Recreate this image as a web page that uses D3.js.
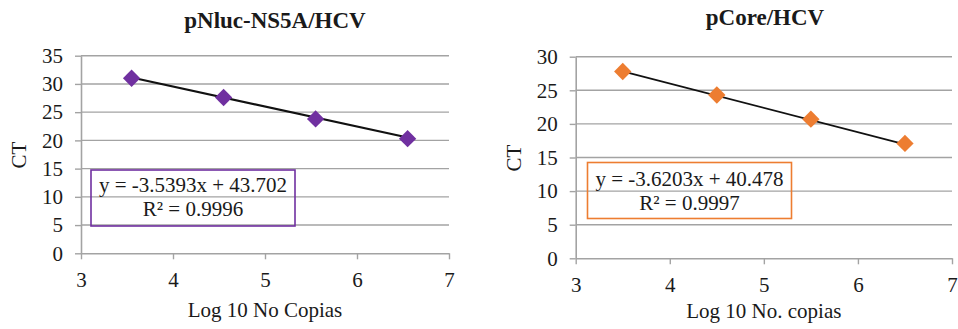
<!DOCTYPE html>
<html>
<head>
<meta charset="utf-8">
<script src="https://cdn.jsdelivr.net/npm/d3@7"></script>
<style>
  html, body { margin: 0; padding: 0; background: #fff; }
  svg { display: block; }
  text { font-family: "Liberation Serif", "Times New Roman", serif; fill: #1a1a1a; }
</style>
</head>
<body>
<svg id="chart" width="958" height="329"></svg>
<script>
// Standard curves: CT vs log10 copy number
const titles = ["pNluc-NS5A/HCV", "pCore/HCV"];
const xTitles = ["Log 10 No Copias", "Log 10 No. copias"];
const yTitle = "CT";
const xTicks = [3, 4, 5, 6, 7];
const yTicksNs5a = [0, 5, 10, 15, 20, 25, 30, 35];
const yTicksCore = [0, 5, 10, 15, 20, 25, 30];

const logCopiesNs5a = [3.55, 4.55, 5.55, 6.55];
const ctNs5a = [31.0, 27.6, 23.8, 20.3];
const logCopiesCore = [3.5, 4.5, 5.5, 6.5];
const ctCore = [27.8, 24.3, 20.7, 17.1];

const slopes = [-3.5393, -3.6203];
const intercepts = [43.702, 40.478];
const rSquared = ["0.9996", "0.9997"];
const markerColors = ["#7030a0", "#ed7d31"];

// Panel geometry
const panels = [
  { xs: logCopiesNs5a, ys: ctNs5a, yTicks: yTicksNs5a,
    left: 81, right: 449, top: 55.7, bottom: 253.3,
    titleX: 275, titleY: 28, xTitleY: 317, yTitleX: 26, yTitleY: 155,
    box: [91, 170, 204, 56], eqY: [191.5, 215.5], lineW: 2.2 },
  { xs: logCopiesCore, ys: ctCore, yTicks: yTicksCore,
    left: 575.7, right: 952, top: 56.7, bottom: 258.3,
    titleX: 765, titleY: 25, xTitleY: 318, yTitleX: 521, yTitleY: 158,
    box: [587.5, 162.5, 204, 56], eqY: [185.5, 209.5], lineW: 1.7 }
];

const svg = d3.select("#chart");
const gridColor = "#a3a3a3";

panels.forEach((p, i) => {
  const g = svg.append("g");
  const x = d3.scaleLinear().domain([3, 7]).range([p.left, p.right]);
  const y = d3.scaleLinear().domain([0, d3.max(p.yTicks)]).range([p.bottom, p.top]);

  // horizontal gridlines
  g.append("g").selectAll("line").data(p.yTicks.filter(t => t > 0)).join("line")
    .attr("x1", p.left).attr("x2", p.right)
    .attr("y1", d => y(d)).attr("y2", d => y(d))
    .attr("stroke", gridColor).attr("stroke-width", 1.4);

  // axes
  const yAxis = g.append("g").attr("transform", `translate(${p.left},0)`)
    .call(d3.axisLeft(y).tickValues(p.yTicks).tickFormat(d3.format("d"))
      .tickSize(6).tickSizeOuter(0).tickPadding(12));
  const xAxis = g.append("g").attr("transform", `translate(0,${p.bottom})`)
    .call(d3.axisBottom(x).tickValues(xTicks).tickFormat(d3.format("d"))
      .tickSize(6).tickSizeOuter(0).tickPadding(13));
  [yAxis, xAxis].forEach(a => {
    a.attr("font-family", null).attr("font-size", null);
    a.select(".domain").attr("stroke", gridColor).attr("stroke-width", 1.6);
    a.selectAll(".tick line").attr("stroke", gridColor).attr("stroke-width", 1.4);
    a.selectAll(".tick text")
      .style("font-family", "'Liberation Serif', 'Times New Roman', serif")
      .style("font-size", "21px").style("fill", "#1a1a1a");
  });

  // regression line over the data range
  const x0 = d3.min(p.xs), x1 = d3.max(p.xs);
  g.append("line")
    .attr("x1", x(x0)).attr("y1", y(slopes[i] * x0 + intercepts[i]))
    .attr("x2", x(x1)).attr("y2", y(slopes[i] * x1 + intercepts[i]))
    .attr("stroke", "#111").attr("stroke-width", p.lineW);

  // diamond markers
  const diamond = d3.symbol(d3.symbolSquare, 150)();
  g.append("g").selectAll("path").data(p.xs.map((v, k) => [v, p.ys[k]])).join("path")
    .attr("d", diamond)
    .attr("transform", d => `translate(${x(d[0])},${y(d[1])}) rotate(45)`)
    .attr("fill", markerColors[i]);

  // equation box
  const [bx, by, bw, bh] = p.box;
  g.append("rect").attr("x", bx).attr("y", by).attr("width", bw).attr("height", bh)
    .attr("fill", "none").attr("stroke", markerColors[i]).attr("stroke-width", 1.6);
  const sign = intercepts[i] >= 0 ? "+" : "-";
  const eq = `y = ${slopes[i]}x ${sign} ${Math.abs(intercepts[i])}`;
  g.append("text").attr("x", bx + bw / 2).attr("y", p.eqY[0])
    .attr("text-anchor", "middle").attr("font-size", 21).text(eq);
  g.append("text").attr("x", bx + bw / 2).attr("y", p.eqY[1])
    .attr("text-anchor", "middle").attr("font-size", 21).text(`R² = ${rSquared[i]}`);

  // titles
  g.append("text").attr("x", p.titleX).attr("y", p.titleY)
    .attr("text-anchor", "middle").attr("font-size", 23).attr("font-weight", "bold")
    .text(titles[i]);
  g.append("text").attr("x", (p.left + p.right) / 2).attr("y", p.xTitleY)
    .attr("text-anchor", "middle").attr("font-size", 21).text(xTitles[i]);
  g.append("text")
    .attr("transform", `translate(${p.yTitleX},${p.yTitleY}) rotate(-90)`)
    .attr("text-anchor", "middle").attr("font-size", 21).text(yTitle);
});
</script>
</body>
</html>
